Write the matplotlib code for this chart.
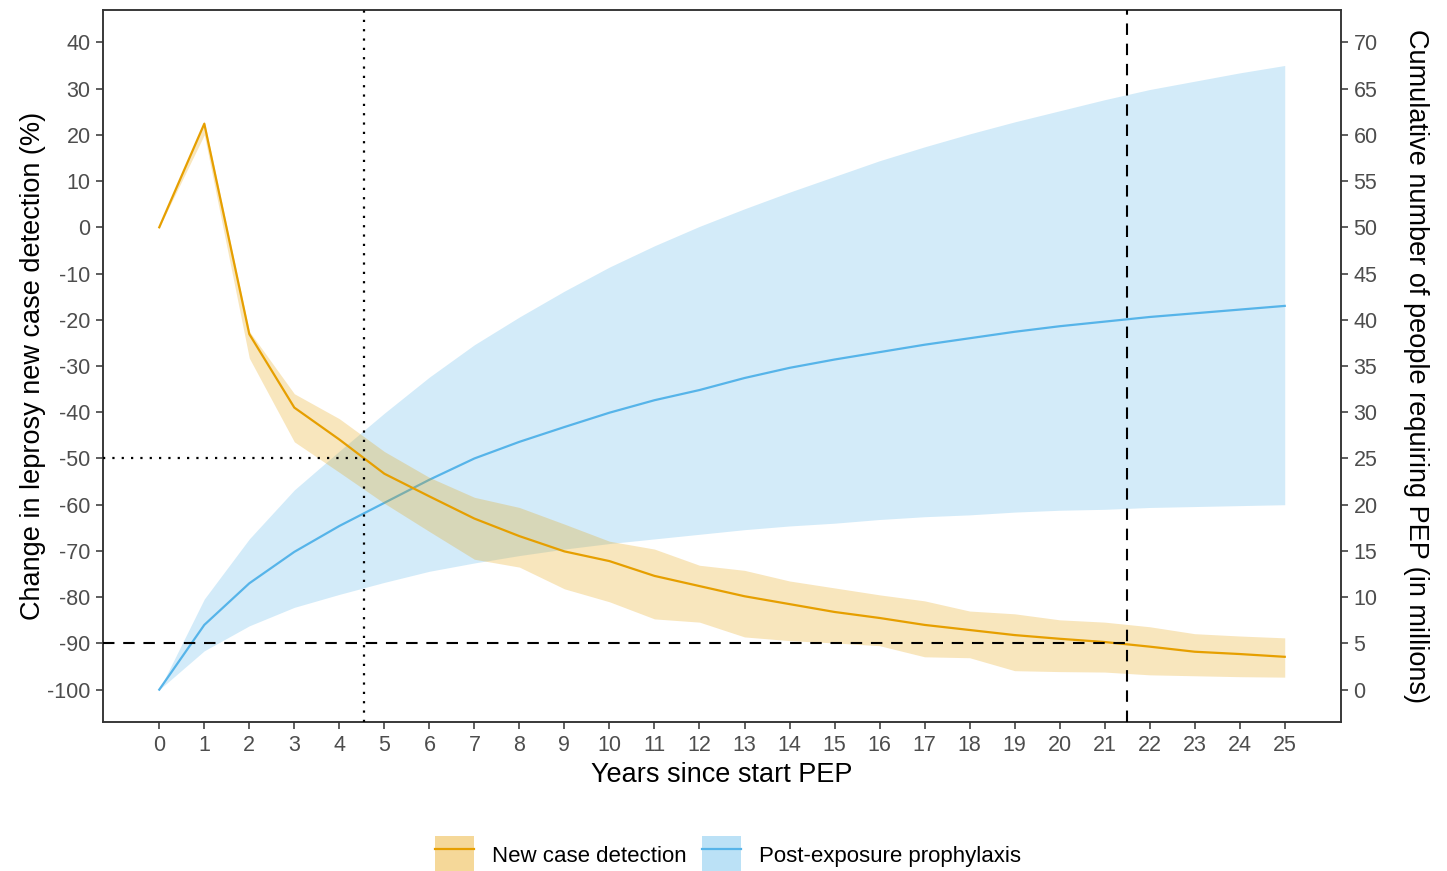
import matplotlib
matplotlib.use("Agg")
import matplotlib.pyplot as plt
from matplotlib.patches import Patch
from matplotlib.lines import Line2D

plt.rcParams['font.family'] = ['Liberation Sans', 'DejaVu Sans']
plt.rcParams['axes.unicode_minus'] = False

years = list(range(26))
ncd_mean = [0, 22.4, -23.1, -39, -45.9, -53.3, -58.2, -63, -66.8, -70.1, -72.2, -75.4, -77.6,
            -79.8, -81.5, -83.2, -84.5, -86, -87.1, -88.2, -89, -89.7, -90.7, -91.8, -92.3, -92.9]
ncd_upper = [0, 23, -22.5, -36, -41.4, -48.5, -54.1, -58.4, -60.6, -64.2, -67.9, -69.6, -73.1,
             -74.2, -76.5, -78, -79.5, -80.8, -83, -83.6, -84.9, -85.4, -86.4, -87.9, -88.4, -88.8]
ncd_lower = [0, 20, -28.3, -46.4, -53, -59.7, -65.8, -71.8, -73.5, -78.2, -81, -84.7, -85.4,
             -88.6, -89.4, -89.9, -90.5, -92.9, -93.1, -95.9, -96.1, -96.2, -96.8, -97, -97.2, -97.3]

pep_mean = [0, 7.0, 11.5, 14.9, 17.7, 20.2, 22.7, 25, 26.8, 28.4, 29.95, 31.3, 32.4, 33.7, 34.8,
            35.7, 36.5, 37.3, 38, 38.7, 39.3, 39.8, 40.3, 40.7, 41.1, 41.5]
pep_upper = [0, 9.8, 16.3, 21.6, 25.8, 29.9, 33.8, 37.3, 40.3, 43.1, 45.7, 48.0, 50.1, 52.0, 53.8,
             55.5, 57.2, 58.7, 60.1, 61.4, 62.6, 63.8, 64.9, 65.8, 66.7, 67.5]
pep_lower = [0, 4.2, 6.9, 8.9, 10.3, 11.6, 12.8, 13.7, 14.5, 15.2, 15.8, 16.3, 16.8, 17.3, 17.7,
             18.0, 18.4, 18.7, 18.9, 19.2, 19.4, 19.5, 19.7, 19.8, 19.9, 20.0]

left_ticks = list(range(-100, 41, 10))
right_ticks = list(range(0, 71, 5))
x_ticks = list(range(0, 26))

vline_50 = 4.55
vline_90 = 21.5

orange = '#E69F00'
blue = '#56B4E9'
tick_col = '#4D4D4D'

fig = plt.figure(figsize=(14.47, 8.71), dpi=100)
ax = fig.add_axes([103/1447, 1-722/871, (1341-103)/1447, (722-10)/871])
ax2 = ax.twinx()

ylim_l = (-107, 47)
ax.set_ylim(ylim_l)
ax2.set_ylim((ylim_l[0]+100)/2, (ylim_l[1]+100)/2)
ax.set_xlim(-1.25, 26.25)

# bands
ax2.fill_between(years, pep_lower, pep_upper, color=blue, alpha=0.26, linewidth=0, zorder=1)
ax2.plot(years, pep_mean, color=blue, lw=1.6, zorder=3)

ax.set_zorder(ax2.get_zorder()+1)
ax.patch.set_visible(False)
ax.fill_between(years, ncd_lower, ncd_upper, color=orange, alpha=0.26, linewidth=0, zorder=1)
ax.plot(years, ncd_mean, color=orange, lw=1.6, zorder=3)

# reference lines
dot = (0, (1, 3.2))
dash = (0, (5.5, 4.2))
ax.axvline(vline_50, color='black', lw=1.6, ls=dot, zorder=4)
ax.plot([-1.25, vline_50], [-50, -50], color='black', lw=1.6, ls=dot, zorder=4)
ax.axvline(vline_90, color='black', lw=1.5, ls=dash, zorder=4)
ax.plot([-1.25, vline_90], [-90, -90], color='black', lw=1.5, ls=dash, zorder=4)

ax.set_xticks(x_ticks)
ax.set_yticks(left_ticks)
ax2.set_yticks(right_ticks)
for a in (ax, ax2):
    a.tick_params(axis='both', labelsize=15.5, colors='#333333', labelcolor=tick_col,
                  length=5, width=1.1, pad=4)
    for s in a.spines.values():
        s.set_color('#333333')
        s.set_linewidth(1.1)

ax.set_xlabel('Years since start PEP', fontsize=19.5, labelpad=5)
ax.set_ylabel('Change in leprosy new case detection (%)', fontsize=19.5, labelpad=1)
ax2.set_ylabel('Cumulative number of people requiring PEP (in millions)', fontsize=19.5,
               rotation=-90, labelpad=37)

h1 = (Patch(facecolor=orange, alpha=0.4, edgecolor='none'), Line2D([], [], color=orange, lw=1.6))
h2 = (Patch(facecolor=blue, alpha=0.4, edgecolor='none'), Line2D([], [], color=blue, lw=1.6))
fig.legend([h1, h2], ['New case detection', 'Post-exposure prophylaxis'],
           loc='center', bbox_to_anchor=(0.503, 1-855/871), ncol=2, frameon=False,
           fontsize=16, handlelength=1.75, handleheight=2.2, handletextpad=0.8,
           columnspacing=0.7)

fig.savefig('out.png', dpi=100)
